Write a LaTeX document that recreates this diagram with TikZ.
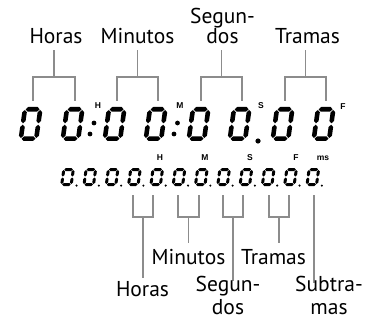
\documentclass[tikz,border=0pt]{standalone}
\usepackage{fontspec}
\setmainfont{PT Sans}
\newfontfamily\tagfont{Liberation Sans}
\definecolor{bracketgray}{RGB}{140,140,140}
\newcommand\lcdh[3]{\fill ({#1},{#3}) -- ({#1+\dgH},{#3-\dgH}) -- ({#2-\dgH},{#3-\dgH}) -- ({#2},{#3}) -- ({#2-\dgH},{#3+\dgH}) -- ({#1+\dgH},{#3+\dgH}) -- cycle;}
\newcommand\lcdv[3]{\fill ({#1},{#2}) -- ({#1+\dgH},{#2+\dgH}) -- ({#1+\dgH},{#3-\dgH}) -- ({#1},{#3}) -- ({#1-\dgH},{#3-\dgH}) -- ({#1-\dgH},{#2+\dgH}) -- cycle;}
% x, y (bottom-left), width, height, thickness, gap
\newcommand\lcdzero[6]{%
\begin{scope}[shift={(#1,#2)}, xslant=0.14]
 \pgfmathsetmacro\dgL{#5/2}
 \pgfmathsetmacro\dgR{#3-#5/2}
 \pgfmathsetmacro\dgB{-#5/2}
 \pgfmathsetmacro\dgT{-(#4-#5/2)}
 \pgfmathsetmacro\dgM{-#4/2}
 \pgfmathsetmacro\dgH{#5/2}
 \pgfmathsetmacro\dgG{#6}
 \lcdh{\dgL+\dgG}{\dgR-\dgG}{\dgT}
 \lcdh{\dgL+\dgG}{\dgR-\dgG}{\dgB}
 \lcdv{\dgL}{\dgT+\dgG}{\dgM-\dgG}
 \lcdv{\dgL}{\dgM+\dgG}{\dgB-\dgG}
 \lcdv{\dgR}{\dgT+\dgG}{\dgM-\dgG}
 \lcdv{\dgR}{\dgM+\dgG}{\dgB-\dgG}
\end{scope}}
\tikzset{
 bracket/.style={draw=bracketgray, line width=1.9pt},
 lbl/.style={font=\fontsize{21.5}{20}\selectfont, inner sep=0pt, align=center},
 lblb/.style={font=\fontsize{21.5}{23}\selectfont, inner sep=0pt, align=center},
 tag/.style={font=\tagfont\bfseries\fontsize{8.5}{9}\selectfont, inner sep=0pt},
 lcddot/.style={fill=black},
}
\begin{document}
\begin{tikzpicture}[x=1pt,y=-1pt]
\useasboundingbox (0,0) rectangle (374,323);
% top labels
\node[lbl, anchor=base] (tH) at (56,44) {Horas};
\node[lbl, anchor=base] (tM) at (137.5,44) {Minutos};
\node[lbl, anchor=south] (tS) at (222.5,44) {Segun-\\dos};
\node[lbl, anchor=base] (tF) at (307.5,44) {Tramas};
% big digits
\foreach \px in {18.2,60.2,102.2,143.2,186.2,227.2,270.2,311.2}{\lcdzero{\px}{141}{20}{34}{4.6}{0.7}}
\fill[lcddot] (94,123) circle (2.4) (90,134) circle (2.4);
\fill[lcddot] (177.5,123) circle (2.4) (174,134) circle (2.4);
\fill[lcddot] (258,141) circle (2.6);
\node[tag] (bH) at (98,105.5) {H};
\node[tag] (bM) at (180,105.5) {M};
\node[tag] (bS) at (261,105.5) {S};
\node[tag] (bF) at (343,106.5) {F};
% top brackets
\coordinate (d1) at (33,101); \coordinate (d2) at (75,101);
\coordinate (d3) at (117,101); \coordinate (d4) at (158,101);
\coordinate (d5) at (201,101); \coordinate (d6) at (242,101);
\coordinate (d7) at (285,101); \coordinate (d8) at (326,101);
\coordinate (jH) at (54,77); \coordinate (jM) at (137.5,77);
\coordinate (jS) at (221.5,77); \coordinate (jF) at (305.5,77);
\draw[bracket] (d1) |- (jH) -| (d2);
\draw[bracket] (d3) |- (jM) -| (d4);
\draw[bracket] (d5) |- (jS) -| (d6);
\draw[bracket] (d7) |- (jF) -| (d8);
\draw[bracket] (jH) -- ([yshift=-6pt]jH |- tH.south);
\draw[bracket] (jM) -- ([yshift=-6pt]jM |- tM.south);
\draw[bracket] (jS) -- ([yshift=-6pt]jS |- tS.south);
\draw[bracket] (jF) -- ([yshift=-6pt]jF |- tF.south);
% small digits
\foreach \i in {0,...,11}{
 \pgfmathsetmacro\px{60+22.3*\i}
 \lcdzero{\px}{186}{12.5}{18}{3.0}{0.5}
 \fill[lcddot] (\px+16.5,185.6) circle (1.15);
}
\node[tag] (sH) at (160,158) {H};
\node[tag] (sM) at (205,158) {M};
\node[tag] (sS) at (250,158) {S};
\node[tag] (sF) at (296,158) {F};
\node[tag] (sms) at (323,158) {ms};
% bottom brackets
\coordinate (e4) at (133,195); \coordinate (e5) at (153,195);
\coordinate (e6) at (178,195); \coordinate (e7) at (199,195);
\coordinate (e8) at (223,195); \coordinate (e9) at (243,195);
\coordinate (e10) at (269,195); \coordinate (e11) at (289,195);
\coordinate (e12) at (314,195);
\coordinate (kH) at (143,217); \coordinate (kM) at (188.5,217);
\coordinate (kS) at (233,217); \coordinate (kF) at (279,217);
\coordinate (eH) at (143,278); \coordinate (eM) at (188.5,243);
\coordinate (eS) at (233,281); \coordinate (eF) at (279,243);
\coordinate (eU) at (314,283);
\draw[bracket] (e4) |- (kH) -| (e5);
\draw[bracket] (e6) |- (kM) -| (e7);
\draw[bracket] (e8) |- (kS) -| (e9);
\draw[bracket] (e10) |- (kF) -| (e11);
\draw[bracket] (kH) -- (eH);
\draw[bracket] (kM) -- (eM);
\draw[bracket] (kS) -- (eS);
\draw[bracket] (kF) -- (eF);
\draw[bracket] (e12) -- (eU);
% bottom labels
\node[lbl, anchor=base] (uM) at (188.5,264) {Minutos};
\node[lbl, anchor=base] (uF) at (273.5,264) {Tramas};
\node[lbl, anchor=base] (uH) at (142.5,296) {Horas};
\node[lblb, anchor=south] (uS) at (228,315) {Segun-\\dos};
\node[lblb, anchor=south] (uU) at (329,315) {Subtra-\\mas};
\end{tikzpicture}
\end{document}
